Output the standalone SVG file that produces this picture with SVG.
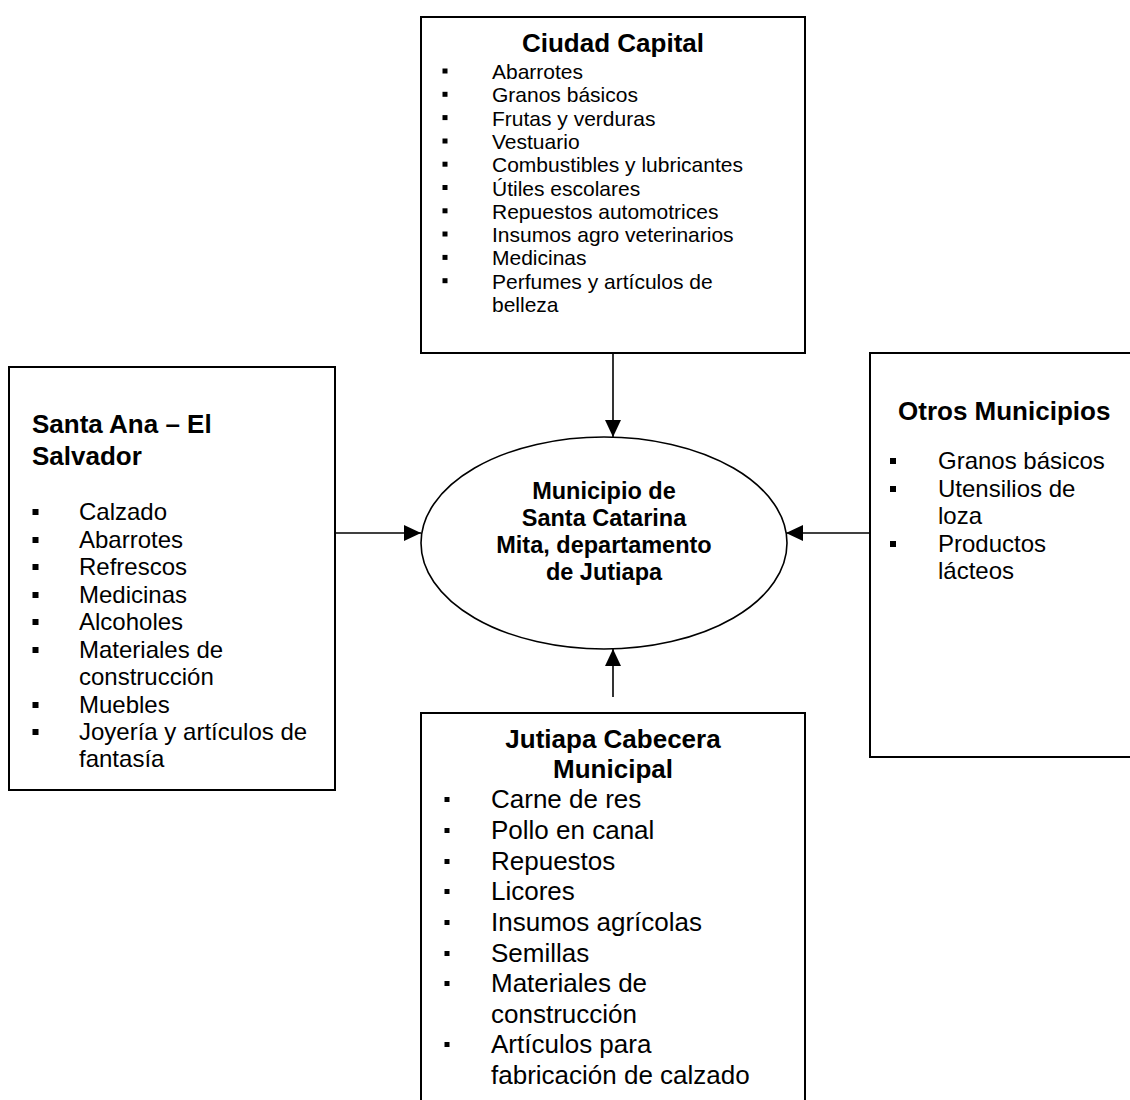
<svg xmlns="http://www.w3.org/2000/svg" width="1130" height="1100" viewBox="0 0 1130 1100">
<style>
  .box { fill: #ffffff; stroke: #000000; stroke-width: 2; }
  .ell { fill: #ffffff; stroke: #000000; stroke-width: 1.6; }
  .conn { stroke: #000000; stroke-width: 1.6; fill: none; marker-end: url(#arrow); }
  text { font-family: "Liberation Sans", Arial, sans-serif; fill: #000000; }
  .title { font-weight: bold; font-size: 26px; }
  .mid { text-anchor: middle; }
  .ctr { font-weight: bold; font-size: 23.5px; text-anchor: middle; }
  .s21 { font-size: 21px; }
  .s24 { font-size: 24px; }
  .s26 { font-size: 26px; }
  .bul { fill: #000000; }
</style>
<defs>
  <marker id="arrow" markerUnits="userSpaceOnUse" markerWidth="18" markerHeight="16" viewBox="0 0 18 16" refX="17" refY="8" orient="auto">
    <path d="M0,0 L17,8 L0,16 Z" fill="#000000"/>
  </marker>
</defs>
<rect width="1130" height="1100" fill="#ffffff"/>

<g id="connectors">
  <line class="conn" x1="613" y1="353" x2="613" y2="437"/>
  <line class="conn" x1="335" y1="533" x2="421" y2="533"/>
  <line class="conn" x1="870" y1="533" x2="786" y2="533"/>
  <line class="conn" x1="613" y1="697" x2="613" y2="649"/>
</g>

<g id="ciudad-capital">
  <rect class="box" x="421" y="17" width="384" height="336"/>
  <text class="title mid" x="613" y="52">Ciudad Capital</text>
  <g class="s21">
    <text x="492" y="79">Abarrotes</text>
    <text x="492" y="102.3">Granos básicos</text>
    <text x="492" y="125.6">Frutas y verduras</text>
    <text x="492" y="149">Vestuario</text>
    <text x="492" y="172.2">Combustibles y lubricantes</text>
    <text x="492" y="195.5">Útiles escolares</text>
    <text x="492" y="218.8">Repuestos automotrices</text>
    <text x="492" y="242">Insumos agro veterinarios</text>
    <text x="492" y="265.4">Medicinas</text>
    <text x="492" y="288.7">Perfumes y artículos de</text>
    <text x="492" y="312">belleza</text>
  </g>
  <g class="bul">
    <rect x="442.5" y="68.5" width="5" height="5"/>
    <rect x="442.5" y="91.8" width="5" height="5"/>
    <rect x="442.5" y="115.1" width="5" height="5"/>
    <rect x="442.5" y="138.5" width="5" height="5"/>
    <rect x="442.5" y="161.7" width="5" height="5"/>
    <rect x="442.5" y="185" width="5" height="5"/>
    <rect x="442.5" y="208.3" width="5" height="5"/>
    <rect x="442.5" y="231.5" width="5" height="5"/>
    <rect x="442.5" y="254.9" width="5" height="5"/>
    <rect x="442.5" y="278.2" width="5" height="5"/>
  </g>
</g>

<g id="santa-ana">
  <rect class="box" x="9" y="367" width="326" height="423"/>
  <text class="title" x="32" y="433">Santa Ana – El</text>
  <text class="title" x="32" y="465">Salvador</text>
  <g class="s24">
    <text x="79" y="520">Calzado</text>
    <text x="79" y="548">Abarrotes</text>
    <text x="79" y="575">Refrescos</text>
    <text x="79" y="603">Medicinas</text>
    <text x="79" y="630">Alcoholes</text>
    <text x="79" y="658">Materiales de</text>
    <text x="79" y="685">construcción</text>
    <text x="79" y="713">Muebles</text>
    <text x="79" y="740">Joyería y artículos de</text>
    <text x="79" y="767">fantasía</text>
  </g>
  <g class="bul">
    <rect x="32.5" y="509" width="6" height="6"/>
    <rect x="32.5" y="537" width="6" height="6"/>
    <rect x="32.5" y="564" width="6" height="6"/>
    <rect x="32.5" y="592" width="6" height="6"/>
    <rect x="32.5" y="619" width="6" height="6"/>
    <rect x="32.5" y="647" width="6" height="6"/>
    <rect x="32.5" y="702" width="6" height="6"/>
    <rect x="32.5" y="729" width="6" height="6"/>
  </g>
</g>

<g id="otros-municipios">
  <rect class="box" x="870" y="353" width="272" height="404"/>
  <text class="title" x="898" y="420">Otros Municipios</text>
  <g class="s24">
    <text x="938" y="469">Granos básicos</text>
    <text x="938" y="497">Utensilios de</text>
    <text x="938" y="524">loza</text>
    <text x="938" y="552">Productos</text>
    <text x="938" y="579">lácteos</text>
  </g>
  <g class="bul">
    <rect x="890" y="458" width="6" height="6"/>
    <rect x="890" y="486" width="6" height="6"/>
    <rect x="890" y="541" width="6" height="6"/>
  </g>
</g>

<g id="municipio-santa-catarina">
  <ellipse class="ell" cx="604" cy="543" rx="183" ry="106"/>
  <text class="ctr" x="604" y="499">Municipio de</text>
  <text class="ctr" x="604" y="526">Santa Catarina</text>
  <text class="ctr" x="604" y="553">Mita, departamento</text>
  <text class="ctr" x="604" y="580">de Jutiapa</text>
</g>

<g id="jutiapa-cabecera">
  <rect class="box" x="421" y="713" width="384" height="400"/>
  <text class="title mid" x="613" y="748">Jutiapa Cabecera</text>
  <text class="title mid" x="613" y="778">Municipal</text>
  <g class="s26">
    <text x="491" y="808">Carne de res</text>
    <text x="491" y="839">Pollo en canal</text>
    <text x="491" y="870">Repuestos</text>
    <text x="491" y="900">Licores</text>
    <text x="491" y="931">Insumos agrícolas</text>
    <text x="491" y="962">Semillas</text>
    <text x="491" y="992">Materiales de</text>
    <text x="491" y="1023">construcción</text>
    <text x="491" y="1053">Artículos para</text>
    <text x="491" y="1084">fabricación de calzado</text>
  </g>
  <g class="bul">
    <rect x="444.5" y="797" width="5" height="5"/>
    <rect x="444.5" y="828" width="5" height="5"/>
    <rect x="444.5" y="859" width="5" height="5"/>
    <rect x="444.5" y="889" width="5" height="5"/>
    <rect x="444.5" y="920" width="5" height="5"/>
    <rect x="444.5" y="951" width="5" height="5"/>
    <rect x="444.5" y="981" width="5" height="5"/>
    <rect x="444.5" y="1042" width="5" height="5"/>
  </g>
</g>
</svg>
